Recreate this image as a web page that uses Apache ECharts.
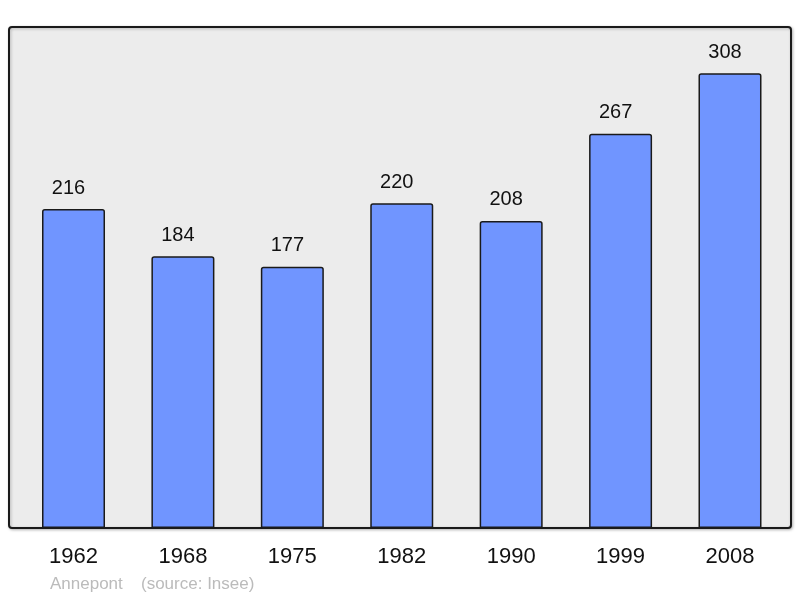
<!DOCTYPE html>
<html>
<head>
<meta charset="utf-8">
<script src="https://cdn.jsdelivr.net/npm/echarts@6/dist/echarts.min.js"></script>
<style>
html,body{margin:0;padding:0;background:#fff;}
#chart{width:800px;height:598px;}
</style>
</head>
<body>
<div id="chart"></div>
<script>
var years = ['1962', '1968', '1975', '1982', '1990', '1999', '2008'];
var population = [216, 184, 177, 220, 208, 267, 308];
var placeName = 'Annepont';
var sourceText = '(source: Insee)';

var chart = echarts.init(document.getElementById('chart'), null, {renderer: 'canvas'});
var FONT = '"Liberation Sans", Arial, sans-serif';
chart.setOption({
  animation: false,
  backgroundColor: '#ffffff',
  grid: {left: 18.8, right: 15.3, top: 27.5, bottom: 70, containLabel: false},
  graphic: [
    {
      type: 'rect', z: 0, silent: true,
      shape: {x: 9, y: 27, width: 782, height: 501, r: 3},
      style: {fill: '#ececec', stroke: '#1a1a1a', lineWidth: 2, shadowBlur: 3, shadowColor: 'rgba(0,0,0,0.25)', shadowOffsetX: 1, shadowOffsetY: 1}
    },
    {
      type: 'text', z: 5, silent: true,
      style: {x: 50, y: 584, text: placeName, font: '17px ' + FONT, fill: '#bbbbbb', align: 'left', verticalAlign: 'middle'}
    },
    {
      type: 'text', z: 5, silent: true,
      style: {x: 141, y: 584, text: sourceText, font: '17px ' + FONT, fill: '#bbbbbb', align: 'left', verticalAlign: 'middle'}
    }
  ],
  xAxis: {
    type: 'category',
    data: years,
    axisLine: {show: false},
    axisTick: {show: false},
    axisLabel: {fontSize: 22, color: '#111', fontFamily: FONT, margin: 18},
    splitLine: {show: false}
  },
  yAxis: {
    type: 'value', min: 0, max: 339, show: false,
    splitLine: {show: false}
  },
  series: [{
    type: 'bar',
    data: population,
    barWidth: 63,
    z: 2,
    itemStyle: {color: '#7095ff', borderColor: '#1a1a1a', borderWidth: 1.5, borderRadius: [2, 2, 0, 0]},
    label: {show: true, position: 'top', distance: 11, offset: [-5, 0], fontSize: 20, color: '#111', fontFamily: FONT}
  }]
});
</script>
</body>
</html>
